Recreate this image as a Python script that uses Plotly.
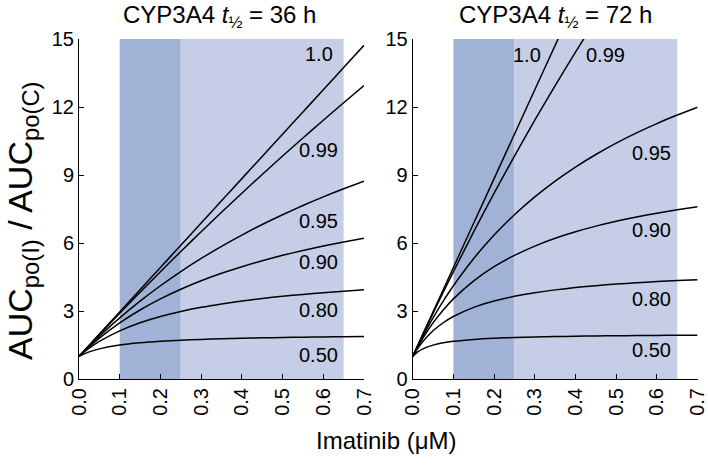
import plotly.graph_objects as go

# ---------------- data ----------------
fm_labels = ["1.0", "0.99", "0.95", "0.90", "0.80", "0.50"]

# CYP3A4 t1/2 = 36 h
x_36 = [0, 0.025, 0.05, 0.1, 0.15, 0.2, 0.25, 0.3, 0.35, 0.4, 0.45, 0.5, 0.55, 0.6, 0.65, 0.7]
auc_36_100 = [1, 1.49, 1.98, 2.96, 3.94, 4.92, 5.90, 6.88, 7.86, 8.84, 9.82, 10.80, 11.78, 12.76, 13.74, 14.72]
auc_36_099 = [1, 1.483, 1.961, 2.903, 3.827, 4.735, 5.624, 6.498, 7.353, 8.197, 9.025, 9.836, 10.634, 11.417, 12.188, 12.943]
auc_36_095 = [1, 1.454, 1.888, 2.696, 3.435, 4.114, 4.739, 5.317, 5.852, 6.350, 6.815, 7.248, 7.654, 8.035, 8.393, 8.731]
auc_36_090 = [1, 1.420, 1.803, 2.475, 3.045, 3.535, 3.960, 4.333, 4.662, 4.955, 5.218, 5.455, 5.669, 5.864, 6.042, 6.206]
auc_36_080 = [1, 1.357, 1.656, 2.126, 2.481, 2.758, 2.980, 3.162, 3.313, 3.442, 3.553, 3.649, 3.733, 3.807, 3.873, 3.932]
auc_36_050 = [1, 1.197, 1.329, 1.495, 1.595, 1.662, 1.710, 1.746, 1.774, 1.797, 1.815, 1.830, 1.844, 1.855, 1.864, 1.873]

# CYP3A4 t1/2 = 72 h
x_72 = [0, 0.0125, 0.025, 0.05, 0.075, 0.1, 0.15, 0.2, 0.25, 0.3, 0.35, 0.4, 0.45, 0.5, 0.55, 0.6, 0.65, 0.7]
auc_72_100 = [1, 1.49, 1.98, 2.96, 3.94, 4.92, 6.88, 8.84, 10.80, 12.76, 14.72, 16.68, 18.64, 20.60, 22.56, 24.52, 26.48, 28.44]
auc_72_099 = [1, 1.483, 1.961, 2.903, 3.827, 4.735, 6.498, 8.197, 9.836, 11.417, 12.943, 14.42, 15.85, 17.22, 18.56, 19.85, 21.10, 22.32]
auc_72_095 = [1, 1.454, 1.888, 2.696, 3.435, 4.114, 5.317, 6.350, 7.248, 8.035, 8.731, 9.350, 9.904, 10.404, 10.857, 11.269, 11.644, 11.990]
auc_72_090 = [1, 1.420, 1.803, 2.475, 3.045, 3.535, 4.333, 4.955, 5.455, 5.864, 6.206, 6.495, 6.744, 6.959, 7.148, 7.315, 7.463, 7.596]
auc_72_080 = [1, 1.357, 1.656, 2.126, 2.481, 2.758, 3.162, 3.442, 3.649, 3.807, 3.932, 4.033, 4.117, 4.187, 4.247, 4.299, 4.344, 4.383]
auc_72_050 = [1, 1.197, 1.329, 1.495, 1.595, 1.662, 1.746, 1.797, 1.830, 1.855, 1.873, 1.887, 1.898, 1.907, 1.915, 1.922, 1.927, 1.932]

# shaded concentration ranges (µM)
band_dark = [0.1, 0.25]
band_light = [0.25, 0.65]

# label positions (data coords) for each curve
label_x_36 = [0.629, 0.641, 0.641, 0.641, 0.641, 0.641]
label_y_36 = [14.34, 10.1, 6.97, 5.14, 3.04, 1.08]
label_x_72 = [0.320, 0.527, 0.640, 0.640, 0.640, 0.640]
label_y_72 = [14.31, 14.31, 9.99, 6.59, 3.51, 1.26]

x_ticks = [0, 0.1, 0.2, 0.3, 0.4, 0.5, 0.6, 0.7]
x_ticktext = ["0.0", "0.1", "0.2", "0.3", "0.4", "0.5", "0.6", "0.7"]
y_ticks = [0, 3, 6, 9, 12, 15]

titles = ["CYP3A4 <i>t</i><sub>½</sub> = 36 h", "CYP3A4 <i>t</i><sub>½</sub> = 72 h"]

# ---------------- figure ----------------
FONT = "Liberation Sans, Arial, sans-serif"
DARK = "rgb(160,179,214)"
LIGHT = "rgb(197,206,230)"

fig = go.Figure()

series_36 = [auc_36_100, auc_36_099, auc_36_095, auc_36_090, auc_36_080, auc_36_050]
series_72 = [auc_72_100, auc_72_099, auc_72_095, auc_72_090, auc_72_080, auc_72_050]

for xs, series, xa, ya in [(x_36, series_36, "x", "y"), (x_72, series_72, "x2", "y2")]:
    for lab, ys in zip(fm_labels, series):
        fig.add_trace(go.Scatter(
            x=xs, y=ys, mode="lines", name=lab, xaxis=xa, yaxis=ya,
            line=dict(color="black", width=1.5, shape="spline", smoothing=0.6),
            showlegend=False, hoverinfo="skip"))

shapes = []
for xr, yr in [("x", "y"), ("x2", "y2")]:
    shapes.append(dict(type="rect", xref=xr, yref=yr, x0=band_dark[0], x1=band_dark[1],
                       y0=0, y1=15, fillcolor=DARK, line=dict(width=0), layer="below"))
    shapes.append(dict(type="rect", xref=xr, yref=yr, x0=band_light[0], x1=band_light[1],
                       y0=0, y1=15, fillcolor=LIGHT, line=dict(width=0), layer="below"))

annotations = []
for lab, lx, ly in zip(fm_labels, label_x_36, label_y_36):
    annotations.append(dict(x=lx, y=ly, xref="x", yref="y", text=lab, showarrow=False,
                            xanchor="right", yanchor="middle",
                            font=dict(size=20, color="black", family=FONT)))
for lab, lx, ly in zip(fm_labels, label_x_72, label_y_72):
    annotations.append(dict(x=lx, y=ly, xref="x2", yref="y2", text=lab, showarrow=False,
                            xanchor="right", yanchor="middle",
                            font=dict(size=20, color="black", family=FONT)))

# panel titles
annotations.append(dict(x=219 / 708, y=1 - 17 / 466, xref="paper", yref="paper", text=titles[0],
                        showarrow=False, xanchor="center", yanchor="middle",
                        font=dict(size=24, color="black", family=FONT)))
annotations.append(dict(x=555 / 708, y=1 - 17 / 466, xref="paper", yref="paper", text=titles[1],
                        showarrow=False, xanchor="center", yanchor="middle",
                        font=dict(size=24, color="black", family=FONT)))
# axis titles
annotations.append(dict(x=386 / 708, y=1 - 440 / 466, xref="paper", yref="paper",
                        text="Imatinib (μM)", showarrow=False, xanchor="center", yanchor="middle",
                        font=dict(size=24, color="black", family=FONT)))
annotations.append(dict(x=23 / 708, y=1 - 221 / 466, xref="paper", yref="paper",
                        text="AUC<sub>po(I)</sub> / AUC<sub>po(C)</sub>", textangle=-90,
                        showarrow=False, xanchor="center", yanchor="middle",
                        font=dict(size=34, color="black", family=FONT)))

xaxis_common = dict(range=[0, 0.7], tickvals=x_ticks, ticktext=x_ticktext, tickangle=-90,
                    ticks="inside", ticklen=5, tickwidth=1, tickcolor="black",
                    showline=True, linecolor="black", linewidth=1, showgrid=False,
                    zeroline=False, tickfont=dict(size=20, color="black", family=FONT),
                    ticklabeloverflow="allow",
                    automargin=False, fixedrange=True)
yaxis_common = dict(range=[0, 15], tickvals=y_ticks, ticks="inside", ticklen=5, tickwidth=1,
                    tickcolor="black", showline=True, linecolor="black", linewidth=1,
                    showgrid=False, zeroline=False,
                    tickfont=dict(size=20, color="black", family=FONT),
                    ticklabeloverflow="allow",
                    automargin=False, fixedrange=True)

y_dom = [1 - 379 / 466, 1 - 39 / 466]

fig.update_layout(
    width=708, height=466,
    margin=dict(l=0, r=0, t=0, b=0),
    paper_bgcolor="white", plot_bgcolor="white",
    xaxis=dict(xaxis_common, domain=[79 / 708, 364 / 708], anchor="y"),
    yaxis=dict(yaxis_common, domain=y_dom, anchor="x"),
    xaxis2=dict(xaxis_common, domain=[412.7 / 708, 697.6 / 708], anchor="y2"),
    yaxis2=dict(yaxis_common, domain=y_dom, anchor="x2"),
    shapes=shapes,
    annotations=annotations,
    font=dict(family=FONT, color="black"),
)

fig.write_html("out.html", config={"displayModeBar": False},
               post_script="document.body.style.margin='0';document.body.style.overflow='hidden';")
